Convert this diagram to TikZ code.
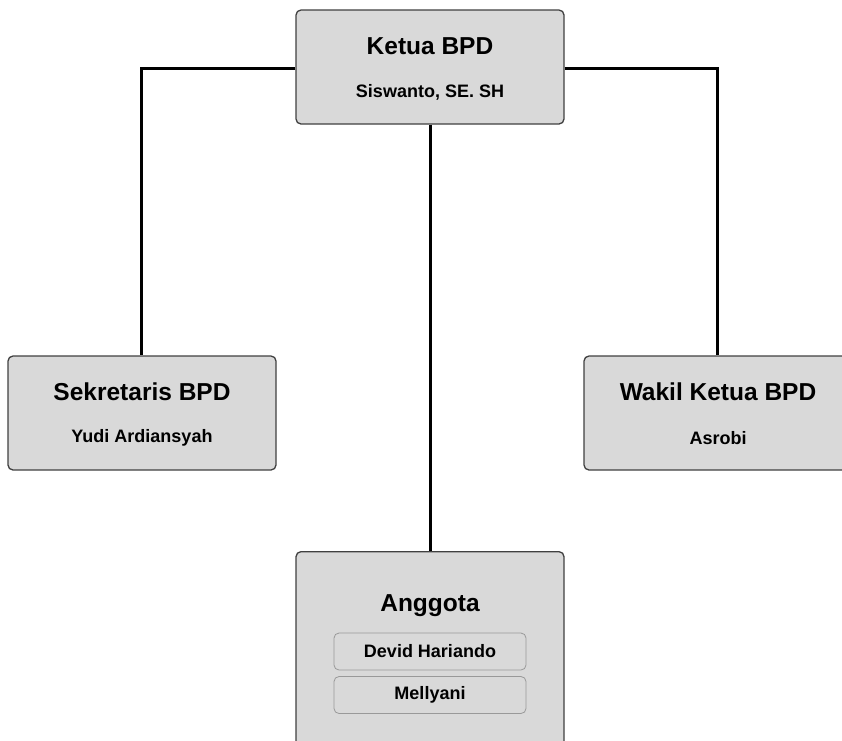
\documentclass[tikz,border=0pt]{standalone}
\usepackage{fontspec}
\setmainfont{Liberation Sans}
\begin{document}
\begin{tikzpicture}[x=1pt,y=-1pt,
  box/.style={draw=black!75, line width=1.3pt, fill=black!15, rounded corners=5pt, minimum width=268pt, minimum height=114pt, inner sep=0pt},
  innerbox/.style={draw=black!40, line width=0.8pt, fill=black!15, rounded corners=5pt, minimum width=192pt, minimum height=37pt, inner sep=0pt, font=\bfseries\fontsize{18}{20}\selectfont},
  title/.style={font=\bfseries\fontsize{24.5}{28}\selectfont},
  sub/.style={font=\bfseries\fontsize{18}{20}\selectfont},
  conn/.style={line width=3pt, black}]
\useasboundingbox (0,0) rectangle (842,740);
\clip (0,0) rectangle (842,740);
\node[box] (ketua) at (430,67) {};
\node[title] (ketuaT) at (430,46) {Ketua BPD};
\node[sub] (ketuaN) at (430,92) {Siswanto, SE. SH};
\node[box] (sek) at (142,413) {};
\node[title] (sekT) at (142,392) {Sekretaris BPD};
\node[sub] (sekN) at (142,438) {Yudi Ardiansyah};
\node[box] (wakil) at (718,413) {};
\node[title] (wakilT) at (718,392) {Wakil Ketua BPD};
\node[sub] (wakilN) at (718,438) {Asrobi};
\node[box, minimum height=200pt, anchor=north] (ang) at (430,551) {};
\node[title] (angT) at (430,606) {Anggota};
\node[innerbox] (m1) at (430,651.5) {Devid Hariando};
\node[innerbox] (m2) at (430,695) {Mellyani};
\coordinate (cl) at (141,68);
\coordinate (cr) at (717,68);
\draw[conn] (ketua.west |- cl) -- (cl) -- (cl |- sek.north);
\draw[conn] (ketua.east |- cr) -- (cr) -- (cr |- wakil.north);
\draw[conn] (ketua.south) -- (ang.north);
\end{tikzpicture}
\end{document}
